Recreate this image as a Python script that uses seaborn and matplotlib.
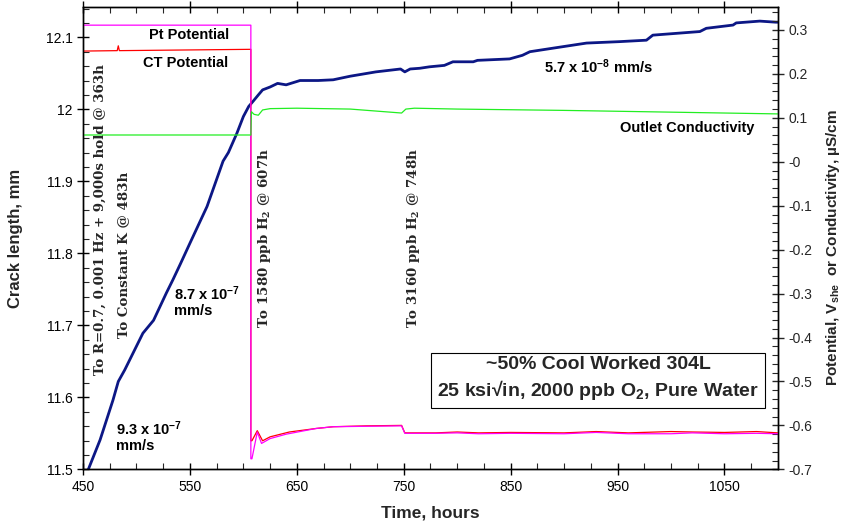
import numpy as np
import pandas as pd
import matplotlib
matplotlib.use("Agg")
import matplotlib.pyplot as plt
from matplotlib.ticker import MultipleLocator, FuncFormatter, FixedLocator
import seaborn as sns

# ---------------- data ----------------
crack_hours = [455, 466, 478, 483, 489, 506, 516, 528, 534, 541, 550, 566, 581, 586, 594,
               600, 605, 609, 614, 618, 625, 632, 640, 653, 670, 684, 700, 724, 747, 751,
               756, 765, 774, 788, 796, 815, 819, 849, 861, 868, 890, 921, 952, 977, 983,
               1027, 1033, 1058, 1061, 1083, 1098, 1100]
crack_mm = [11.500, 11.541, 11.596, 11.622, 11.638, 11.689, 11.707, 11.745, 11.763, 11.785,
            11.814, 11.865, 11.928, 11.940, 11.967, 11.990, 12.004, 12.011, 12.020, 12.027,
            12.031, 12.036, 12.034, 12.040, 12.040, 12.041, 12.046, 12.052, 12.056, 12.052,
            12.056, 12.057, 12.059, 12.061, 12.066, 12.066, 12.068, 12.070, 12.075, 12.080,
            12.085, 12.092, 12.094, 12.096, 12.103, 12.108, 12.1125, 12.117, 12.120, 12.1225,
            12.121, 12.121]

pt_hours = [450, 607, 607, 608, 613, 617, 625, 640, 668, 684, 715, 748, 751, 780, 800,
            820, 850, 900, 930, 960, 1000, 1020, 1050, 1080, 1100]
pt_pot = [0.311, 0.311, -0.676, -0.676, -0.615, -0.641, -0.630, -0.620, -0.607, -0.603,
          -0.602, -0.601, -0.618, -0.618, -0.617, -0.619, -0.618, -0.619, -0.616, -0.619,
          -0.619, -0.617, -0.619, -0.618, -0.619]

ct_hours = [450, 482, 483, 484, 607, 607, 608, 613, 618, 625, 643, 668, 684, 715, 748,
            751, 780, 800, 820, 850, 900, 930, 960, 1000, 1020, 1050, 1080, 1100]
ct_pot = [0.252, 0.253, 0.264, 0.253, 0.256, -0.635, -0.635, -0.612, -0.635, -0.626,
          -0.615, -0.607, -0.603, -0.601, -0.600, -0.617, -0.617, -0.615, -0.617, -0.616,
          -0.617, -0.614, -0.617, -0.614, -0.615, -0.616, -0.614, -0.617]

cond_hours = [450, 607, 607.5, 610, 614, 618, 625, 650, 700, 748, 752, 760, 800, 900,
              1000, 1100]
cond_val = [0.061, 0.061, 0.114, 0.108, 0.106, 0.118, 0.121, 0.122, 0.120, 0.111, 0.120,
            0.122, 0.120, 0.117, 0.113, 0.109]

# ---------------- style ----------------
sns.set_style("ticks")
plt.rcParams["font.family"] = ["Liberation Sans", "DejaVu Sans"]
plt.rcParams["axes.unicode_minus"] = False
plt.rcParams["mathtext.fontset"] = "custom"
plt.rcParams["mathtext.rm"] = "Liberation Sans"
plt.rcParams["mathtext.bf"] = "Liberation Sans:bold"
plt.rcParams["mathtext.it"] = "Liberation Sans:italic"

fig = plt.figure(figsize=(8.41, 5.28), dpi=100)
ax = fig.add_axes([0.0987, 0.1111, 0.8263, 0.8762])
ax2 = ax.twinx()

navy = "#0c1785"
sns.lineplot(x=crack_hours, y=crack_mm, ax=ax, color=navy, lw=2.0,
             sort=False, estimator=None)
sns.lineplot(x=ct_hours, y=ct_pot, ax=ax2, color="#ff0000", lw=0.9,
             sort=False, estimator=None)
sns.lineplot(x=pt_hours, y=pt_pot, ax=ax2, color="#ff00ff", lw=0.9,
             sort=False, estimator=None)
sns.lineplot(x=cond_hours, y=cond_val, ax=ax2, color="#22ee22", lw=0.9,
             sort=False, estimator=None)

ax.set_xlim(450, 1100)
ax.set_ylim(11.5, 12.1425)
ax2.set_ylim(-0.7, 0.353)

ax.xaxis.set_major_locator(MultipleLocator(100))
ax.xaxis.set_minor_locator(MultipleLocator(25))
ax.set_xticks(np.arange(450, 1101, 100))
ax.yaxis.set_major_locator(MultipleLocator(0.1))
ax.yaxis.set_minor_locator(MultipleLocator(0.02))
ax2.yaxis.set_major_locator(FixedLocator(np.round(np.arange(-0.7, 0.31, 0.1), 2)))
ax2.yaxis.set_minor_locator(MultipleLocator(0.02))

fmt = FuncFormatter(lambda v, p: f"{round(v, 3):g}")
ax.yaxis.set_major_formatter(fmt)
ax2.yaxis.set_major_formatter(fmt)

for a in (ax, ax2):
    for s in a.spines.values():
        s.set_linewidth(1.0)
        s.set_color("black")
        s.set_visible(True)
ax.tick_params(which="major", direction="inout", length=8, width=1, labelsize=10,
               top=True, labeltop=False, colors="black")
ax.tick_params(which="minor", direction="in", length=4, width=0.8, top=True)
ax2.tick_params(which="major", direction="inout", length=8, width=1, labelsize=10)
ax2.tick_params(which="minor", direction="in", length=4, width=0.8)

ax.set_xlabel("Time, hours", fontsize=12.5, fontweight="bold")
ax.xaxis.set_label_coords(0.5, -0.079)
ax.set_ylabel("Crack length, mm", fontsize=12, fontweight="bold")
ax.yaxis.set_label_coords(-0.087, 0.5)
ax2.set_ylabel(r"Potential, V$_{\mathbf{she}}$  or Conductivity, µS/cm",
               fontsize=11, fontweight="bold")
ax2.yaxis.set_label_coords(1.066, 0.48)

# ---------------- annotations ----------------
bold = dict(fontweight="bold", color="black")
ax.text(549, 12.103, "Pt Potential", ha="center", va="center", fontsize=10.5, **bold)
ax.text(546, 12.064, "CT Potential", ha="center", va="center", fontsize=10.5, **bold)
ax.text(535, 11.733, "8.7 x 10$^{\\mathbf{-7}}$\nmm/s", ha="left", va="center",
        fontsize=10.5, linespacing=1.1, **bold)
ax.text(481, 11.546, "9.3 x 10$^{\\mathbf{-7}}$\nmm/s", ha="left", va="center",
        fontsize=10.5, linespacing=1.1, **bold)
ax.text(932, 12.059, "5.7 x 10$^{\\mathbf{-8}}$ mm/s", ha="center", va="center",
        fontsize=10.5, **bold)
ax.text(1015, 11.9736, "Outlet Conductivity", ha="center", va="center",
        fontsize=10.5, **bold)

serif = dict(rotation=90, ha="center", va="bottom", fontsize=9.6,
             fontweight="bold", family=["DejaVu Serif"], math_fontfamily="dejavuserif")
ax.text(466.5, 11.631, "To R=0.7, 0.001 Hz + 9,000s hold @ 363h", **serif)
ax.text(487.7, 11.682, "To Constant K @ 483h", **serif)
ax.text(620, 11.696, r"To 1580 ppb H$_\mathbf{2}$ @ 607h", **serif)
ax.text(758.7, 11.696, r"To 3160 ppb H$_\mathbf{2}$ @ 748h", **serif)

ax.text(0.741, 0.195,
        "~50% Cool Worked 304L\n25 ksi√in, 2000 ppb O$_\\mathbf{2}$, Pure Water",
        transform=ax.transAxes, ha="center", va="center", fontsize=14,
        fontweight="bold", linespacing=1.25,
        bbox=dict(boxstyle="square,pad=0.3", facecolor="white", edgecolor="black",
                  linewidth=0.8))

fig.savefig("out.png", dpi=100)
